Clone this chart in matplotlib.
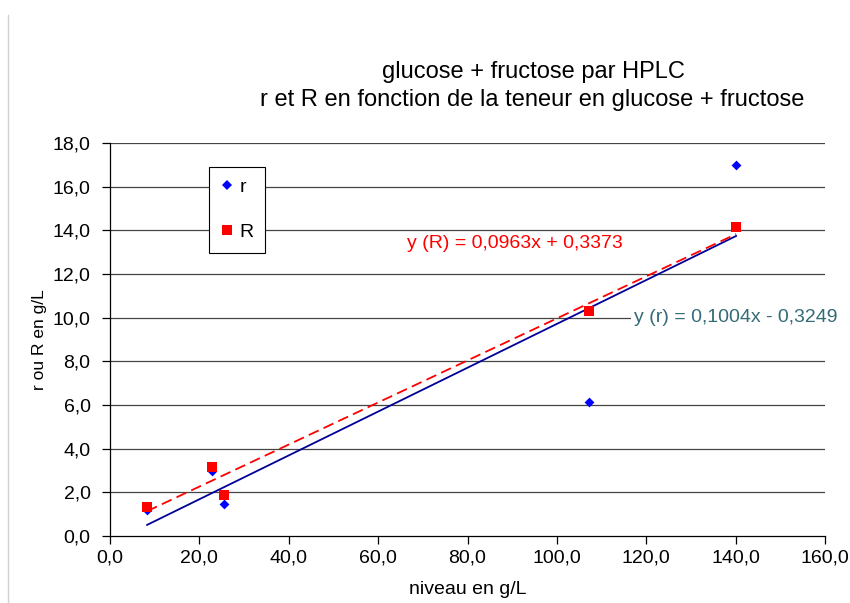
import matplotlib
matplotlib.use("Agg")
import matplotlib.pyplot as plt
import numpy as np
from matplotlib.ticker import FuncFormatter
from matplotlib.lines import Line2D

plt.rcParams['font.family'] = ['Liberation Sans', 'DejaVu Sans']

# Data
niveau = [8.3, 22.8, 25.5, 107.2, 140.1]
r_vals = [1.2, 3.0, 1.47, 6.14, 17.0]
R_vals = [1.33, 3.16, 1.88, 10.3, 14.15]
r_fit = (0.1004, -0.3249)
R_fit = (0.0963, 0.3373)
x_ticks = [0, 20, 40, 60, 80, 100, 120, 140, 160]
y_ticks = [0, 2, 4, 6, 8, 10, 12, 14, 16, 18]
title_lines = ["glucose + fructose par HPLC",
               "r et R en fonction de la teneur en glucose + fructose"]

fig = plt.figure(figsize=(8.5, 6.03), dpi=100)
ax = fig.add_axes([110/850, 1-536/603, 715/850, 393/603])

for yt in y_ticks[1:]:
    ax.axhline(yt, color='#444444', lw=0.9, zorder=1)

xs = np.array([min(niveau), max(niveau)])
ax.plot(xs, r_fit[0]*xs + r_fit[1], color='#000099', lw=1.3, zorder=2)
ax.plot(xs, R_fit[0]*xs + R_fit[1], color='#FF0000', lw=1.3, ls=(0, (6, 3)), zorder=2)

ax.scatter(niveau, r_vals, marker='D', s=25, color='#0000FF', zorder=3, linewidths=0)
ax.scatter(niveau, R_vals, marker='s', s=45, color='#FF0000', zorder=4, linewidths=0)

ax.set_xlim(0, 160)
ax.set_ylim(0, 18)
ax.set_xticks(x_ticks)
ax.set_yticks(y_ticks)
fmt = FuncFormatter(lambda v, p: f"{v:.1f}".replace('.', ','))
ax.xaxis.set_major_formatter(fmt)
ax.yaxis.set_major_formatter(fmt)
ax.tick_params(direction='out', length=6, width=0.9, labelsize=14, colors='black')
ax.tick_params(axis='y', pad=8)
ax.tick_params(axis='x', pad=4)
for s in ['top', 'right']:
    ax.spines[s].set_visible(False)
for s in ['left', 'bottom']:
    ax.spines[s].set_color('black')
    ax.spines[s].set_linewidth(0.9)

ax.set_xlabel("niveau en g/L", fontsize=14)
ax.xaxis.set_label_coords(0.5, (536-590)/393)
ax.xaxis.label.set_va('center')
ax.set_ylabel("r ou R en g/L", fontsize=12.5)
ax.yaxis.set_label_coords((39-110)/715, 0.5)
ax.yaxis.label.set_va('center')

fig.text(533/850, 1-72/603, title_lines[0], ha='center', va='center', fontsize=17)
fig.text(532/850, 1-100/603, title_lines[1], ha='center', va='center', fontsize=17)

fig.text(407/850, 1-243/603, "y (R) = 0,0963x + 0,3373", color='#FF0000',
         ha='left', va='center', fontsize=14)
fig.text(634/850, 1-317/603, "y (r) = 0,1004x - 0,3249", color='#336B77',
         ha='left', va='center', fontsize=14,
         bbox=dict(facecolor='white', edgecolor='none', pad=2))

handles = [Line2D([], [], marker='D', ls='none', color='#0000FF', markersize=5.5, markeredgewidth=0),
           Line2D([], [], marker='s', ls='none', color='#FF0000', markersize=7, markeredgewidth=0)]
leg = fig.legend(handles, ['r', 'R'], loc='upper left',
                 bbox_to_anchor=(209/850, 1-167/603), fontsize=14,
                 frameon=True, fancybox=False, framealpha=1, edgecolor='black',
                 labelspacing=1.4, handlelength=0.7, handletextpad=0.25,
                 borderpad=0.6, borderaxespad=0)
leg.get_frame().set_linewidth(0.8)

fig.add_artist(Line2D([8/850, 8/850], [0, 1-15/603], color='#d0d0d0', lw=1))

fig.savefig("out.png", dpi=100)
